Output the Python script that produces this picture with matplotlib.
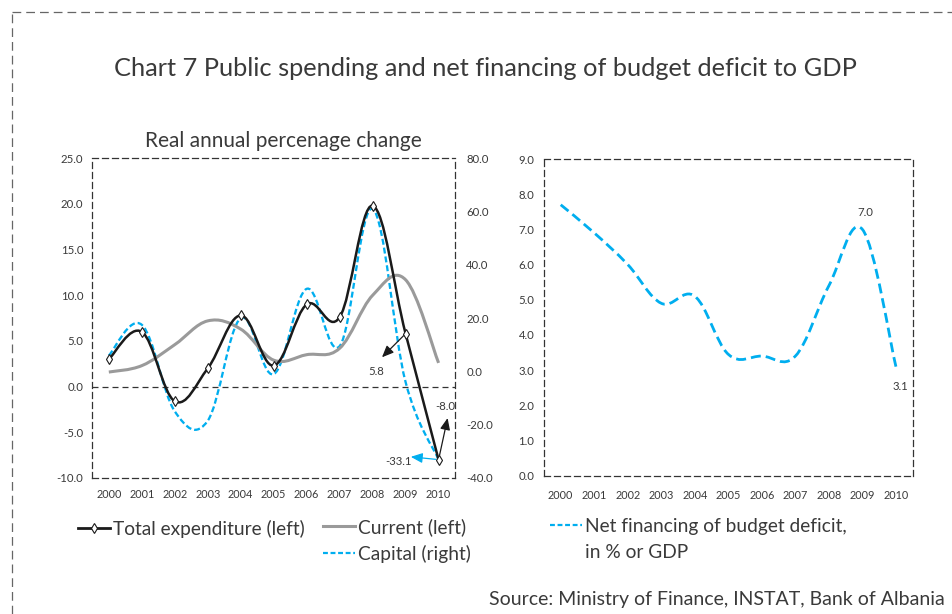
import numpy as np
import matplotlib
matplotlib.use('Agg')
import matplotlib.pyplot as plt
from matplotlib.path import Path
from matplotlib.patches import PathPatch
from matplotlib.lines import Line2D

plt.rcParams['font.family'] = ['Lato', 'DejaVu Sans']

years = ['2000', '2001', '2002', '2003', '2004', '2005', '2006', '2007', '2008', '2009', '2010']
total_exp = [3.0, 6.0, -1.6, 2.0, 7.8, 2.3, 9.0, 7.6, 19.8, 5.8, -8.0]     # left axis
current_exp = [1.6, 2.3, 4.6, 7.2, 6.3, 2.9, 3.5, 4.2, 10.0, 11.7, 2.6]    # left axis
capital_exp = [6.0, 17.5, -15.0, -18.5, 20.0, -1.0, 31.0, 9.5, 61.0, -4.0, -33.1]  # right axis
net_financing = [7.7, 6.9, 6.0, 4.9, 5.1, 3.45, 3.4, 3.4, 5.4, 7.0, 3.1]   # % of GDP

BLUE = '#00aeef'
TXT = '#3a3a3a'
FRAME = '#333333'


def smooth_path(y, k=1 / 5.5):
    # excel-like smoothed line: catmull-rom segments as cubic bezier curves
    x = np.arange(len(y), dtype=float)
    y = np.asarray(y, dtype=float)
    px = np.concatenate([[x[0]], x, [x[-1]]])
    py = np.concatenate([[y[0]], y, [y[-1]]])
    verts = [(x[0], y[0])]
    codes = [Path.MOVETO]
    for i in range(len(x) - 1):
        c1 = (x[i] + (px[i + 2] - px[i]) * k, y[i] + (py[i + 2] - py[i]) * k)
        c2 = (x[i + 1] - (px[i + 3] - px[i + 1]) * k, y[i + 1] - (py[i + 3] - py[i + 1]) * k)
        verts += [c1, c2, (x[i + 1], y[i + 1])]
        codes += [Path.CURVE4] * 3
    return Path(verts, codes)


def add_curve(ax, y, **kw):
    ax.add_patch(PathPatch(smooth_path(y), fill=False, capstyle='butt', **kw))


def dashed_frame(ax):
    for s in ax.spines.values():
        s.set_linestyle((0, (4.8, 3.2)))
        s.set_linewidth(0.9)
        s.set_edgecolor(FRAME)


fig = plt.figure(figsize=(9.53, 6.14), dpi=100)

# outer dashed border (top and left only)
fig.add_artist(Line2D([12 / 953, 1.0], [1 - 12 / 614] * 2, transform=fig.transFigure,
                      color='#666666', lw=0.9, linestyle=(0, (7, 4))))
fig.add_artist(Line2D([12 / 953] * 2, [0.0, 1 - 12 / 614], transform=fig.transFigure,
                      color='#666666', lw=0.9, linestyle=(0, (7, 4))))

fig.text(0.509, 0.889, 'Chart 7 Public spending and net financing of budget deficit to GDP',
         ha='center', va='center', fontsize=18.3, color=TXT)

# ---- left panel: real annual percentage change
ax = fig.add_axes([0.0969, 0.2215, 0.3806, 0.5207])
ax2 = ax.twinx()
ax.set_zorder(ax2.get_zorder() + 1)
ax.patch.set_visible(False)

x = np.arange(len(years))
ax.set_xlim(-0.5, 10.5)
ax.set_ylim(-10, 25)
ax2.set_ylim(-40, 80)
ax.set_yticks(np.arange(-10, 26, 5))
ax.set_yticklabels(['%.1f' % v for v in np.arange(-10, 26, 5)])
ax2.set_yticks(np.arange(-40, 81, 20))
ax2.set_yticklabels(['%.1f' % v for v in np.arange(-40, 81, 20)])
ax.set_xticks(x)
ax.set_xticklabels(years)
ax.tick_params(axis='y', length=0, pad=6.5, labelsize=8.2, labelcolor=TXT)
ax.tick_params(axis='x', length=0, pad=8, labelsize=7.8, labelcolor=TXT)
ax2.tick_params(axis='y', length=0, pad=8, labelsize=8.2, labelcolor=TXT)
dashed_frame(ax)
for s in ax2.spines.values():
    s.set_visible(False)

ax.axhline(0, color=FRAME, lw=0.9, linestyle=(0, (4.8, 3.2)), zorder=1)

add_curve(ax2, capital_exp, edgecolor=BLUE, lw=1.65, linestyle=(0, (2.6, 1.3)))
add_curve(ax, current_exp, edgecolor='#9a9a9a', lw=2.2, zorder=2)
add_curve(ax, total_exp, edgecolor='#1a1a1a', lw=1.8, zorder=3)
ax.plot(x, total_exp, linestyle='none', marker='d', markersize=5.5,
        markerfacecolor='white', markeredgecolor='#1a1a1a', markeredgewidth=0.8, zorder=4)

ax.text(0.526, 1.055, 'Real annual percenage change', transform=ax.transAxes,
        ha='center', va='center', fontsize=15, color=TXT)

arrow_k = dict(arrowstyle='<|-,head_length=0.7,head_width=0.3', color='#1a1a1a', lw=0.9,
               shrinkA=0, shrinkB=2)
ax.annotate('', xy=(9, total_exp[9]), xytext=(-17, -17), textcoords='offset points',
            arrowprops=arrow_k)
ax.annotate('%.1f' % total_exp[9], xy=(9, total_exp[9]), xytext=(-21, -27),
            textcoords='offset points', ha='center', va='center', fontsize=8.2, color=TXT)
ax.annotate('', xy=(10, total_exp[10]), xytext=(6.5, 30), textcoords='offset points',
            arrowprops=arrow_k)
ax.annotate('%.1f' % total_exp[10], xy=(10, total_exp[10]), xytext=(4.5, 38),
            textcoords='offset points', ha='center', va='center', fontsize=8.2, color=TXT)
arrow_b = dict(arrow_k, color=BLUE)
ax2.annotate('', xy=(10, capital_exp[10]), xytext=(-20, 2), textcoords='offset points',
             arrowprops=arrow_b)
ax2.annotate('%.1f' % capital_exp[10], xy=(10, capital_exp[10]), xytext=(-29, -1),
             textcoords='offset points', ha='center', va='center', fontsize=8.2, color=TXT)

# ---- right panel: net financing of budget deficit, % of GDP
bx = fig.add_axes([0.5708, 0.2252, 0.3869, 0.5158])
bx.set_xlim(-0.5, 10.5)
bx.set_ylim(0, 9)
bx.set_yticks(np.arange(0, 9.1, 1))
bx.set_yticklabels(['%.1f' % v for v in np.arange(0, 9.1, 1)])
bx.set_xticks(x)
bx.set_xticklabels(years)
bx.tick_params(axis='y', length=0, pad=7, labelsize=8.2, labelcolor=TXT)
bx.tick_params(axis='x', length=0, pad=10, labelsize=7.8, labelcolor=TXT)
dashed_frame(bx)
add_curve(bx, net_financing, edgecolor=BLUE, lw=2.0, linestyle=(0, (3.6, 1.8)))
bx.annotate('%.1f' % net_financing[9], xy=(9, net_financing[9]), xytext=(2, 12),
            textcoords='offset points', ha='center', va='center', fontsize=8.2, color=TXT)
bx.annotate('%.1f' % net_financing[10], xy=(10, net_financing[10]), xytext=(3, -14),
            textcoords='offset points', ha='center', va='center', fontsize=8.2, color=TXT)

# ---- legends
h_total = Line2D([], [], color='#1a1a1a', lw=2.0, marker='d', markersize=5,
                 markerfacecolor='white', markeredgecolor='#1a1a1a', markeredgewidth=0.8)
h_current = Line2D([], [], color='#9a9a9a', lw=2.2)
h_capital = Line2D([], [], color=BLUE, lw=1.6, linestyle=(0, (2.2, 1.2)))
h_blank = Line2D([], [], color='none', lw=0)
leg_kw = dict(frameon=False, loc='upper left', borderpad=0, borderaxespad=0,
              handletextpad=0.15, labelspacing=0.45, prop={'size': 13.8},
              labelcolor=TXT, handlelength=1.67)
fig.legend([h_total], ['Total expenditure (left)'],
           bbox_to_anchor=(78 / 953, 1 - 520 / 614), **leg_kw)
fig.legend([h_current, h_capital], ['Current (left)', 'Capital (right)'],
           bbox_to_anchor=(323 / 953, 1 - 518 / 614), **leg_kw)
fig.legend([h_capital, h_blank], ['Net financing of budget deficit,', 'in % or GDP'],
           bbox_to_anchor=(550 / 953, 1 - 518 / 614), **leg_kw)

fig.text(945 / 953, 1 - 600 / 614, 'Source: Ministry of Finance, INSTAT, Bank of Albania',
         ha='right', va='center', fontsize=14, color=TXT)

fig.savefig('out.png', dpi=100)
